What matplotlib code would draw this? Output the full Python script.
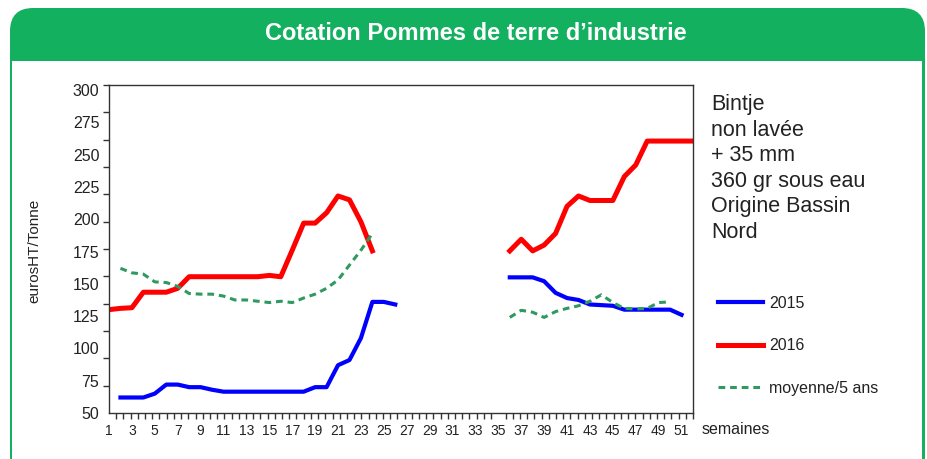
import numpy as np
import matplotlib
matplotlib.use("Agg")
import matplotlib.pyplot as plt
from matplotlib.patches import FancyBboxPatch, Rectangle

plt.rcParams['font.family'] = ['Liberation Sans', 'DejaVu Sans']

nan = np.nan
weeks = list(range(1, 53))

prix_2015 = [nan, 62, 62, 62, 65, 72, 72, 70, 70, 68, 66.5, 66.5, 66.5, 66.5, 66.5, 66.5, 66.5, 66.5,
             70, 70, 87, 91, 108, 136, 136, 134,
             nan, nan, nan, nan, nan, nan, nan, nan, nan,
             155, 155, 155, 152, 143, 139, 137.5, 134, 133.5, 133, 130, 130, 130, 130, 130, 126, nan]
prix_2016 = [130, 131, 131.5, 143.5, 143.5, 143.5, 146.5, 155.5, 155.5, 155.5, 155.5, 155.5, 155.5, 155.5,
             156.5, 155.5, 176, 197, 197, 205, 218, 215, 198, 175.5,
             nan, nan, nan, nan, nan, nan, nan, nan, nan, nan, nan,
             175.5, 184.5, 175.5, 180, 189, 210, 218, 214.5, 214.5, 214.5, 233, 242, 260.5, 260.5, 260.5, 260.5, 260.5]
moyenne_5ans = [nan, 162, 158.5, 157.5, 151.5, 151, 148, 142.5, 142, 142, 140.5, 137.5, 137.5, 136.5, 135.5,
                136.5, 135.5, 139, 142, 146.5, 153, 164.5, 176, 189,
                nan, nan, nan, nan, nan, nan, nan, nan, nan, nan, nan,
                124, 129.5, 128, 124, 128.5, 131, 133, 136.5, 141.5, 135.5, 131, 130.5, 131, 135.5, 136, nan, nan]

y_labels = [50, 75, 100, 125, 150, 175, 200, 225, 250, 275, 300]
x_labels = list(range(1, 52, 2))
series_labels = ['2015', '2016', 'moyenne/5 ans']
title = "Cotation Pommes de terre d\u2019industrie"
note = "Bintje\nnon lav\u00e9e\n+ 35 mm\n360 gr sous eau\nOrigine Bassin\nNord"

W, H = 928, 459
fig = plt.figure(figsize=(W / 100, H / 100), dpi=100)
fig.patch.set_facecolor('white')

green = '#12b05f'
# frame panel
panel = FancyBboxPatch((10 / W, -20 / H), 915 / W, (H - 8 + 20) / H,
                       boxstyle="round,pad=0,rounding_size=0.025", transform=fig.transFigure,
                       facecolor=green, edgecolor=green, linewidth=0, zorder=0, mutation_aspect=W / H)
fig.patches.append(panel)
inner = Rectangle((12.5 / W, -10 / H), (922.5 - 12.5) / W, (H - 61 + 10) / H,
                  transform=fig.transFigure, facecolor='white', edgecolor='none', zorder=0.5)
fig.patches.append(inner)

fig.text(476 / W, 1 - 33 / H, title, color='white', fontsize=17, fontweight='bold',
         ha='center', va='center')

ax = fig.add_axes([109 / W, 1 - 413 / H, (693 - 109) / W, (413 - 85) / H])
ax.set_facecolor('none')
ax.set_zorder(2)

ax.plot(weeks, prix_2015, color='#0000ff', lw=3.0, label=series_labels[0], solid_joinstyle='round')
ax.plot(weeks, prix_2016, color='#ff0000', lw=3.6, label=series_labels[1], solid_joinstyle='round')
ax.plot(weeks, moyenne_5ans, color='#2f9a60', lw=2.2, dashes=(2.2, 1.6), label=series_labels[2])

ymin, ymax = 50, 303.9
ax.set_xlim(1, 52)
ax.set_ylim(ymin, ymax)

ax.set_yticks(y_labels)
ax.set_yticklabels([str(v) for v in y_labels])
ax.set_yticks(np.linspace(ymin, ymax, 13), minor=True)
ax.set_xticks(x_labels)
ax.set_xticklabels([str(v) for v in x_labels])
ax.set_xticks(np.linspace(1, 52, 82), minor=True)

ax.tick_params(axis='y', which='major', length=0, pad=7, labelsize=11.5, labelcolor='#222222')
ax.tick_params(axis='y', which='minor', length=4, width=1, direction='out', color='#333333')
ax.tick_params(axis='x', which='major', length=0, pad=8, labelsize=10, labelcolor='#222222')
ax.tick_params(axis='x', which='minor', length=4, width=1, direction='out', color='#333333')

for s in ax.spines.values():
    s.set_color('#333333')
    s.set_linewidth(1.0)

fig.text(34 / W, 1 - 251 / H, 'eurosHT/Tonne', rotation=90, fontsize=11, color='#222222',
         ha='center', va='center')
fig.text(702 / W, 1 - 430 / H, 'semaines', fontsize=11.5, color='#222222', ha='left', va='center')
fig.text(711 / W, 1 - 94.5 / H, note, fontsize=15.5, color='#222222', ha='left', va='top', linespacing=1.28)

leg = fig.legend(loc='upper left', bbox_to_anchor=(718 / W, 1 - 296 / H), frameon=False,
                 fontsize=11.5, handlelength=2.8, handletextpad=0.4, labelspacing=1.72,
                 labelcolor='#222222', borderaxespad=0, borderpad=0)

fig.savefig('out.png', dpi=100, facecolor='white')
